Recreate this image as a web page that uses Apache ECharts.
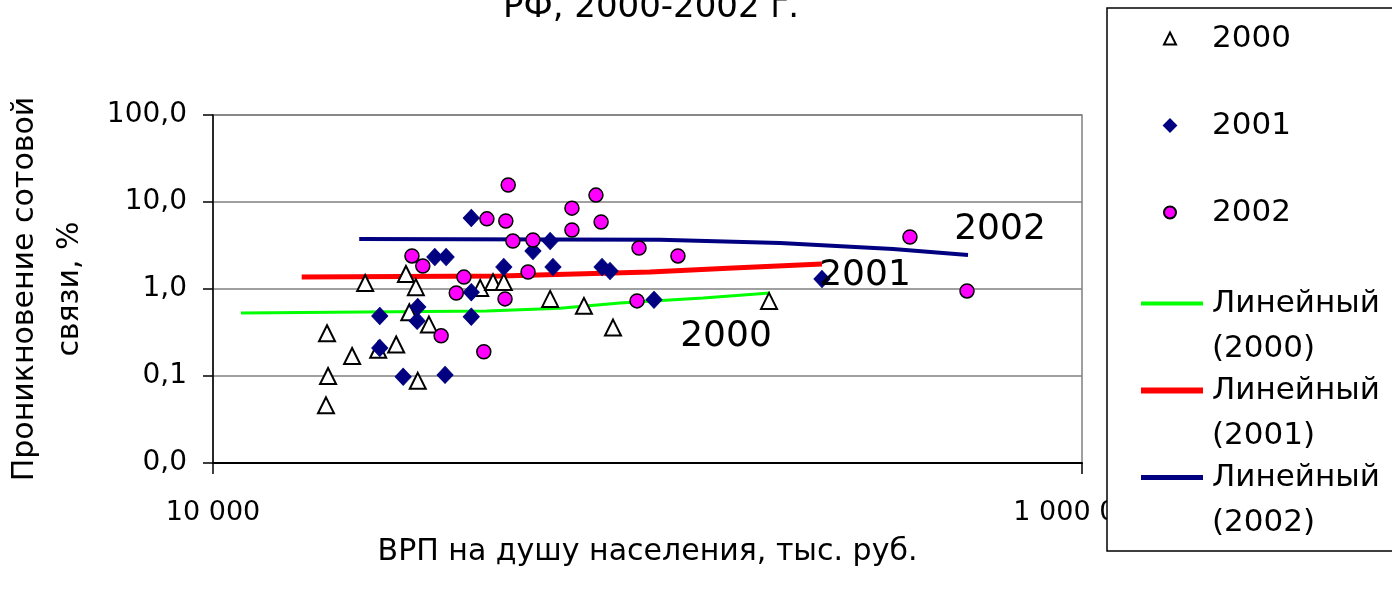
<!DOCTYPE html>
<html>
<head>
<meta charset="utf-8">
<script src="https://cdn.jsdelivr.net/npm/echarts@6/dist/echarts.min.js"></script>
<style>
  html, body { margin: 0; padding: 0; background: #fff; }
  #chart { width: 1392px; height: 593px; }
</style>
</head>
<body>
<div id="chart"></div>
<script>
const FONT = 'DejaVu Sans'

// [ВРП на душу населения, проникновение %]
const pts2000 = [
  [18300, 0.31], [18400, 0.10], [18200, 0.046], [20900, 0.17], [22400, 1.17],
  [24000, 0.20], [26400, 0.23], [27800, 1.49], [29300, 1.05], [28300, 0.54],
  [29600, 0.088], [31400, 0.39], [41200, 1.03], [44100, 1.20], [46700, 1.20],
  [59700, 0.77], [71400, 0.64], [83300, 0.36], [190400, 0.73],
]
const pts2001 = [
  [24200, 0.49], [24200, 0.21], [27400, 0.098], [29600, 0.62], [29500, 0.43],
  [32400, 2.33], [34400, 2.33], [34200, 0.103], [39300, 6.55], [39300, 0.92],
  [39300, 0.48], [46700, 1.79], [54500, 2.73], [59700, 3.56], [60600, 1.79],
  [78600, 1.79], [82000, 1.61], [103500, 0.75], [252100, 1.30],
]
const pts2002 = [
  [47800, 15.7], [67000, 8.5], [76100, 12.0], [42700, 6.4], [47200, 6.05],
  [67000, 4.77], [78200, 5.89], [49000, 3.56], [54500, 3.66], [95600, 2.96],
  [28700, 2.40], [30400, 1.84], [53100, 1.57], [37800, 1.37], [36300, 0.90],
  [47000, 0.77], [94600, 0.73], [33500, 0.29], [42000, 0.19], [117500, 2.40],
  [401800, 3.96], [543700, 0.95],
]

// trend lines
const trend2000 = [[11600, 0.53], [42700, 0.56], [62900, 0.60], [86400, 0.69], [134200, 0.79], [191400, 0.90]]
const trend2001 = [[16000, 1.37], [45800, 1.41], [101300, 1.57], [157300, 1.74], [252100, 1.94]]
const trend2002 = [[21700, 3.76], [106900, 3.68], [201800, 3.38], [367300, 2.88], [546600, 2.46]]

const years = ['2000', '2001', '2002']
const trendNames = ['Линейный (2000)', 'Линейный (2001)', 'Линейный (2002)']
const trendColors = ['#00ff00', '#ff0000', '#000080']
const trendWidths = [3, 5, 4]

const chart = echarts.init(document.getElementById('chart'))

const fmtThousands = (v) => String(Math.round(v)).replace(/\B(?=(\d{3})+(?!\d))/g, ' ')

const plotText = (text, x, y, size) => ({
  type: 'text', z: 5, x, y,
  style: {
    text, fontSize: size, fontFamily: FONT, fill: '#000',
    align: 'center', verticalAlign: 'middle', textAlign: 'center', textVerticalAlign: 'middle',
  },
})

const trendSeries = (i, data) => ({
  name: trendNames[i], type: 'line', data, symbol: 'none', z: 1,
  lineStyle: { color: trendColors[i], width: trendWidths[i] },
  itemStyle: { color: trendColors[i] },
})

chart.setOption({
  animation: false,
  backgroundColor: '#fff',
  textStyle: { fontFamily: FONT, color: '#000' },
  grid: {
    left: 213, right: 310, top: 115, bottom: 130,
    outerBoundsMode: 'none',
    containLabel: false,
    show: true, borderColor: '#808080', borderWidth: 1.5, backgroundColor: '#fff',
  },
  xAxis: {
    type: 'log',
    logBase: 100,
    min: 10000,
    max: 1000000,
    name: 'ВРП на душу населения, тыс. руб.',
    nameLocation: 'middle',
    nameGap: 74,
    nameTextStyle: { fontSize: 30, fontFamily: FONT, color: '#000' },
    axisLine: { lineStyle: { color: '#000', width: 2 } },
    axisTick: { show: true, length: 11, lineStyle: { color: '#000', width: 1.5 } },
    axisLabel: { fontSize: 27, fontFamily: FONT, color: '#000', margin: 36, formatter: fmtThousands },
    splitLine: { show: false },
  },
  yAxis: {
    type: 'log',
    logBase: 10,
    min: 0.01,
    max: 100,
    name: 'Проникновение сотовой\nсвязи, %',
    nameLocation: 'middle',
    nameGap: 120,
    nameTextStyle: { fontSize: 30, fontFamily: FONT, color: '#000', lineHeight: 45 },
    axisLine: { lineStyle: { color: '#000', width: 1.5 } },
    axisTick: { show: true, length: 10, lineStyle: { color: '#000', width: 1.5 } },
    axisLabel: {
      fontSize: 28, fontFamily: FONT, color: '#000', margin: 26,
      formatter: (v) => v.toFixed(1).replace('.', ','),
    },
    splitLine: { show: true, lineStyle: { color: '#808080', width: 1.5 } },
  },
  legend: [
    {
      orient: 'vertical',
      left: 1163, top: 23,
      padding: 0,
      itemGap: 56,
      itemWidth: 12, itemHeight: 12,
      z: 10,
      data: years,
      textStyle: { fontSize: 31, fontFamily: FONT, color: '#000', padding: [0, 0, 0, 31] },
    },
    {
      orient: 'vertical',
      left: 1138, top: 236,
      padding: 0,
      itemGap: -48,
      itemWidth: 62, itemHeight: 12,
      itemStyle: { opacity: 0 },
      z: 10,
      data: trendNames.map((name, i) => ({
        name,
        lineStyle: { color: trendColors[i], width: trendWidths[i] + 1 },
      })),
      formatter: (name) => '\n' + name.replace(' ', '\n'),
      textStyle: { fontSize: 31, fontFamily: FONT, color: '#000', lineHeight: 45, padding: [0, 0, 0, 4] },
    },
  ],
  graphic: [
    {
      type: 'rect', z: 5,
      shape: { x: 1107, y: 8, width: 300, height: 543 },
      style: { fill: '#fff', stroke: '#000', lineWidth: 1.5 },
    },
    plotText('РФ, 2000-2002 г.', 651, 8, 34),
    plotText('2000', 726, 337, 36),
    plotText('2001', 865, 276, 36),
    plotText('2002', 1000, 230, 36),
  ],
  series: [
    trendSeries(0, trend2000),
    trendSeries(1, trend2001),
    trendSeries(2, trend2002),
    {
      name: years[0], type: 'scatter', data: pts2000, symbol: 'triangle', symbolSize: 16, z: 3,
      itemStyle: { color: '#fff', borderColor: '#000', borderWidth: 2, opacity: 1 },
    },
    {
      name: years[1], type: 'scatter', data: pts2001, symbol: 'diamond', symbolSize: [16, 17], z: 3,
      itemStyle: { color: '#000080', borderColor: '#000080', borderWidth: 1, opacity: 1 },
    },
    {
      name: years[2], type: 'scatter', data: pts2002, symbol: 'circle', symbolSize: 14, z: 3,
      itemStyle: { color: '#ff00ff', borderColor: '#000', borderWidth: 1.5, opacity: 1 },
    },
  ],
})
</script>
</body>
</html>
